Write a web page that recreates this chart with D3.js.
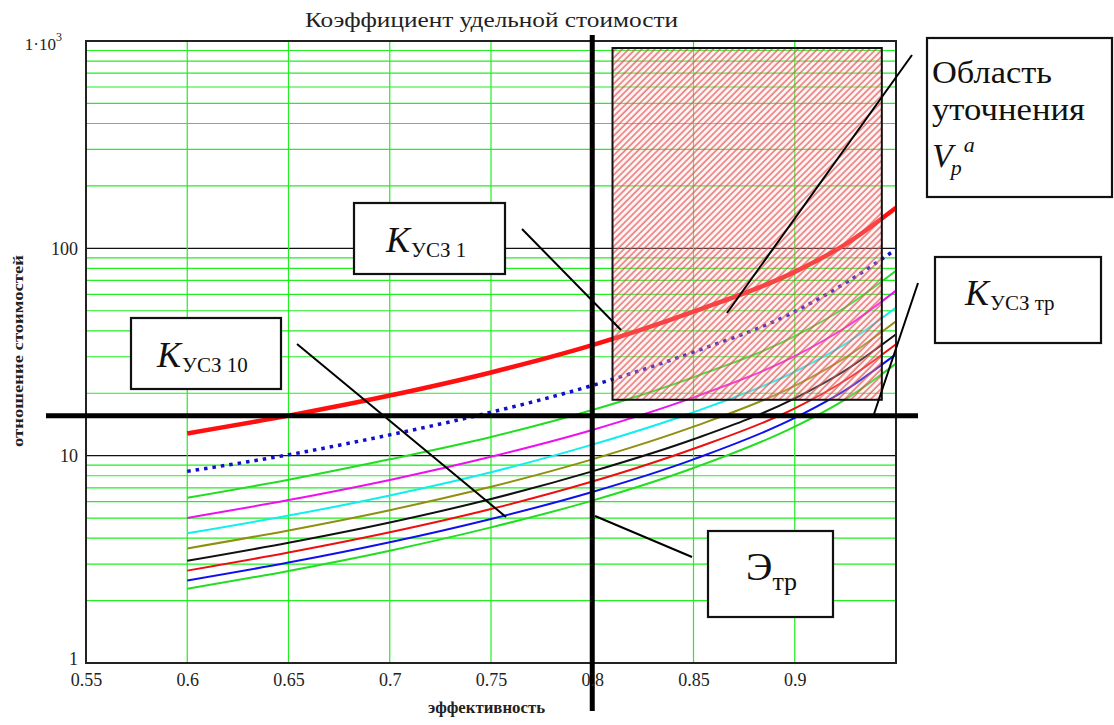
<!DOCTYPE html>
<html>
<head>
<meta charset="utf-8">
<script src="https://cdn.jsdelivr.net/npm/d3@7"></script>
<style>
  html, body { margin: 0; padding: 0; background: #fff; }
  svg { display: block; font-family: "Liberation Serif", "Times New Roman", "DejaVu Serif", serif; }
</style>
</head>
<body>
<div id="chart"></div>
<script>
// эффективность (ось X)
const efficiency = [0.6, 0.65, 0.7, 0.75, 0.8, 0.85, 0.9, 0.925, 0.95];

// отношение стоимостей для каждой кривой
const kusz1   = [12.8, 15.6, 19.5, 25.2, 34.1, 49.5, 77, 104.5, 157];
const dotted  = [8.4, 10.1, 12.6, 16.2, 21.8, 31.6, 49.5, 68, 99];
const green1  = [6.26, 7.65, 9.6, 12.3, 16.6, 23.9, 37.7, 52, 78];
const magenta = [5.01, 6.11, 7.64, 9.88, 13.3, 19.1, 30.2, 41.5, 62.5];
const cyan    = [4.22, 5.14, 6.43, 8.32, 11.3, 16.2, 25.4, 34.6, 51.8];
const olive   = [3.57, 4.36, 5.46, 7.08, 9.6, 13.8, 21.7, 29.7, 44.5];
const black   = [3.11, 3.8, 4.76, 6.18, 8.4, 12.0, 18.9, 25.8, 38.5];
const red2    = [2.79, 3.41, 4.27, 5.53, 7.5, 10.8, 16.9, 23.1, 34.5];
const blue2   = [2.5, 3.05, 3.82, 4.95, 6.68, 9.6, 15.2, 20.7, 30.9];
const green2  = [2.28, 2.78, 3.48, 4.51, 6.07, 8.72, 13.8, 18.7, 27.8];

// подписи осей
const xTicks = [0.55, 0.6, 0.65, 0.7, 0.75, 0.8, 0.85, 0.9];
const yTicks = [1, 10, 100, 1000];

// уровни: требуемый коэффициент и требуемая эффективность
const kuszTr = 15.6;
const effTr = 0.8;

// область уточнения
const regionX = [0.81, 0.943];
const regionY = [18.6, 925];

// ----------------------------------------
const W = 1114, H = 725;
const plot = { left: 86, right: 896, top: 41, bottom: 663 };
const serif = '"Liberation Serif", "Times New Roman", "DejaVu Serif", serif';

const svg = d3.select('#chart').append('svg')
  .attr('width', W).attr('height', H);

const x = d3.scaleLinear().domain([0.55, 0.95]).range([plot.left, plot.right]);
const y = d3.scaleLog().domain([1, 1000]).range([plot.bottom, plot.top]);

// штриховка
const defs = svg.append('defs');
const pat = defs.append('pattern')
  .attr('id', 'hatch')
  .attr('patternUnits', 'userSpaceOnUse')
  .attr('width', 4.6).attr('height', 4.6)
  .attr('patternTransform', 'rotate(45)');
pat.append('rect').attr('width', 4.6).attr('height', 4.6).attr('fill', 'rgba(255,215,215,0.25)');
pat.append('line')
  .attr('x1', 1).attr('y1', 0).attr('x2', 1).attr('y2', 4.6)
  .attr('stroke', 'rgba(225,70,70,0.75)').attr('stroke-width', 1.5);

// сетка
const grid = svg.append('g');
const minor = [];
[1, 10, 100].forEach(d => { for (let m = 2; m <= 9; m++) minor.push(d * m); });
grid.selectAll('.hminor').data(minor).enter().append('line')
  .attr('x1', plot.left).attr('x2', plot.right)
  .attr('y1', d => y(d)).attr('y2', d => y(d))
  .attr('stroke', '#22ee22').attr('stroke-width', 1.2);
grid.selectAll('.hmajor').data([10, 100]).enter().append('line')
  .attr('x1', plot.left).attr('x2', plot.right)
  .attr('y1', d => y(d)).attr('y2', d => y(d))
  .attr('stroke', '#111').attr('stroke-width', 1.4);
grid.selectAll('.v').data(xTicks.slice(1)).enter().append('line')
  .attr('x1', d => x(d)).attr('x2', d => x(d))
  .attr('y1', plot.top).attr('y2', plot.bottom)
  .attr('stroke', '#22ee22').attr('stroke-width', 1.2);

// кривые
const series = [
  { v: green2,  color: '#22dd22', w: 2 },
  { v: blue2,   color: '#1010ee', w: 2 },
  { v: red2,    color: '#ee1010', w: 2 },
  { v: black,   color: '#111111', w: 2 },
  { v: olive,   color: '#8f8f10', w: 2 },
  { v: cyan,    color: '#10eeee', w: 2 },
  { v: magenta, color: '#ee10ee', w: 2 },
  { v: green1,  color: '#22dd22', w: 2 },
  { v: dotted,  color: '#1010cc', w: 3.5, dash: '3.5,5' },
  { v: kusz1,   color: '#ff1010', w: 4.5 }
];
const line = d3.line()
  .x((d, i) => x(efficiency[i]))
  .y(d => y(d))
  .curve(d3.curveMonotoneX);
svg.append('g').selectAll('path').data(series).enter().append('path')
  .attr('d', d => line(d.v))
  .attr('fill', 'none')
  .attr('stroke', d => d.color)
  .attr('stroke-width', d => d.w)
  .attr('stroke-dasharray', d => d.dash || null);

// область уточнения
svg.append('rect')
  .attr('x', x(regionX[0])).attr('y', y(regionY[1]))
  .attr('width', x(regionX[1]) - x(regionX[0]))
  .attr('height', y(regionY[0]) - y(regionY[1]))
  .attr('fill', 'url(#hatch)')
  .attr('stroke', '#111').attr('stroke-width', 2);

// рамка
svg.append('rect')
  .attr('x', plot.left).attr('y', plot.top)
  .attr('width', plot.right - plot.left).attr('height', plot.bottom - plot.top)
  .attr('fill', 'none').attr('stroke', '#222').attr('stroke-width', 2);

// толстые линии
svg.append('line')
  .attr('x1', 46).attr('x2', 918)
  .attr('y1', y(kuszTr)).attr('y2', y(kuszTr))
  .attr('stroke', '#000').attr('stroke-width', 5);
svg.append('line')
  .attr('x1', x(effTr)).attr('x2', x(effTr))
  .attr('y1', 35).attr('y2', 711)
  .attr('stroke', '#000').attr('stroke-width', 5);

// оси
const xAxis = svg.append('g')
  .attr('transform', `translate(0,${plot.bottom})`)
  .call(d3.axisBottom(x).tickValues(xTicks).tickFormat(d3.format('~g')).tickSize(0).tickPadding(10));
xAxis.select('.domain').remove();
xAxis.selectAll('text')
  .attr('font-family', serif)
  .attr('font-size', 18).attr('fill', '#222')
  .attr('dy', '0.71em');

const yAxis = svg.append('g')
  .attr('transform', `translate(${plot.left},0)`)
  .call(d3.axisLeft(y).tickValues(yTicks).tickFormat(d => d === 1000 ? '' : d3.format('d')(d)).tickSize(0).tickPadding(8));
yAxis.select('.domain').remove();
yAxis.selectAll('text')
  .attr('font-family', serif)
  .attr('font-size', 18).attr('fill', '#222');
yAxis.selectAll('.tick').filter(d => d === 1)
  .select('text').attr('dy', '0.1em');
const topLabel = yAxis.selectAll('.tick').filter(d => d === 1000).select('text')
  .attr('x', -24).attr('dy', '0.5em').attr('font-size', 17);
topLabel.append('tspan').text('1·10');
topLabel.append('tspan').attr('dy', '-0.75em').attr('font-size', 12).text('3');

// заголовки
svg.append('text')
  .attr('x', 305).attr('y', 27)
  .attr('font-size', 22).attr('fill', '#222')
  .attr('textLength', 373).attr('lengthAdjust', 'spacingAndGlyphs')
  .text('Коэффициент удельной стоимости');
svg.append('text')
  .attr('x', 428).attr('y', 713)
  .attr('font-size', 16).attr('font-weight', 'bold').attr('fill', '#222')
  .attr('textLength', 117).attr('lengthAdjust', 'spacingAndGlyphs')
  .text('эффективность');
svg.append('text')
  .attr('transform', 'translate(23,447) rotate(-90)')
  .attr('font-size', 15).attr('font-weight', 'bold').attr('fill', '#222')
  .attr('textLength', 192).attr('lengthAdjust', 'spacingAndGlyphs')
  .text('отношение стоимостей');

// выноски
const leaders = [
  [522, 229, 621, 330],
  [297, 344, 506, 517],
  [692, 557, 595, 516],
  [912, 55, 727, 313],
  [918, 283, 873, 417]
];
svg.append('g').selectAll('line').data(leaders).enter().append('line')
  .attr('x1', d => d[0]).attr('y1', d => d[1])
  .attr('x2', d => d[2]).attr('y2', d => d[3])
  .attr('stroke', '#000').attr('stroke-width', 2);

function box(x0, y0, w, h) {
  svg.append('rect')
    .attr('x', x0).attr('y', y0).attr('width', w).attr('height', h)
    .attr('fill', '#fff').attr('stroke', '#111').attr('stroke-width', 2.2);
}

function kLabel(tx, ty, sub) {
  const t = svg.append('text').attr('x', tx).attr('y', ty).attr('fill', '#111');
  t.append('tspan').attr('font-style', 'italic').attr('font-size', 36).text('K');
  t.append('tspan').attr('font-size', 21).attr('dy', 5).attr('dx', 1).text(sub);
}

box(354, 203, 151, 71);
kLabel(386, 252, 'УСЗ 1');

box(131, 318, 150, 71);
kLabel(157, 367, 'УСЗ 10');

box(935, 257, 166, 86);
kLabel(965, 305, 'УСЗ тр');

box(708, 531, 125, 86);
const e = svg.append('text').attr('x', 746).attr('y', 580).attr('fill', '#111');
e.append('tspan').attr('font-size', 40).text('Э');
e.append('tspan').attr('font-size', 26).attr('dy', 10).text('тр');

box(927, 38, 185, 159);
svg.append('text').attr('x', 932).attr('y', 83).attr('font-size', 32).attr('fill', '#111')
  .attr('textLength', 120).attr('lengthAdjust', 'spacingAndGlyphs').text('Область');
svg.append('text').attr('x', 932).attr('y', 120).attr('font-size', 32).attr('fill', '#111')
  .attr('textLength', 153).attr('lengthAdjust', 'spacingAndGlyphs').text('уточнения');
const v = svg.append('text').attr('x', 932).attr('y', 167).attr('fill', '#111').attr('font-style', 'italic');
v.append('tspan').attr('font-size', 34).text('V');
v.append('tspan').attr('font-size', 22).attr('dy', 8).attr('dx', -2).text('p');
v.append('tspan').attr('font-size', 22).attr('dy', -23).attr('dx', 2).text('a');
</script>
</body>
</html>
